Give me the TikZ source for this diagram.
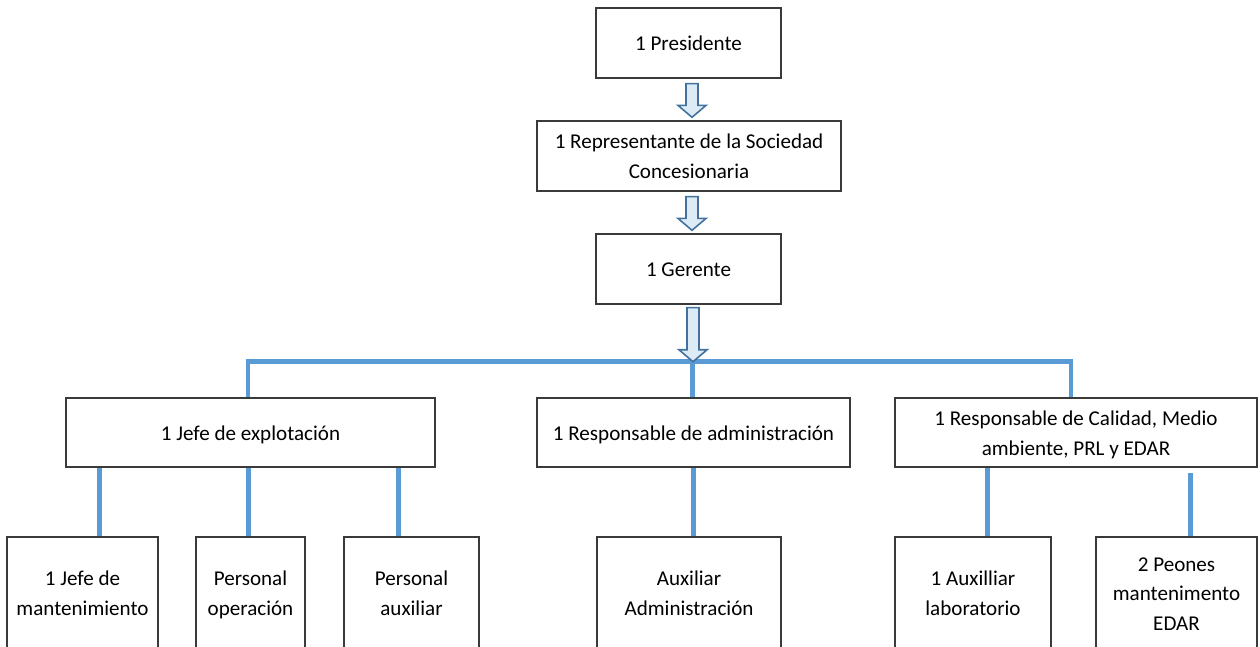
\documentclass[tikz,border=0pt]{standalone}
\usepackage{fontspec}
\setmainfont{Carlito}
\usetikzlibrary{calc}
\definecolor{conblue}{HTML}{5B9BD5}
\definecolor{arrfill}{HTML}{DDEBF7}
\definecolor{arrline}{HTML}{41719C}
\definecolor{boxline}{HTML}{3A3A3A}
\tikzset{
  box/.style={draw=boxline, line width=0.8pt, fill=white, align=center, text=black,
    font=\fontsize{12}{17}\selectfont, inner sep=0pt},
  conn/.style={draw=conblue, line width=2.8pt},
  barrow/.style={draw=arrline, fill=arrfill, line width=0.9pt, line join=miter}
}
\newcommand\st{\rule[-4pt]{0pt}{17pt}}
\newcommand\blockarrow[2]{%
  \draw[barrow] let \p1=(#1), \p2=(#2) in
    (\x1-3.4pt,\y1) -- (\x1+3.4pt,\y1) -- (\x1+3.4pt,\y2+6.8pt) -- (\x1+8pt,\y2+6.8pt)
    -- (\x1,\y2) -- (\x1-8pt,\y2+6.8pt) -- (\x1-3.4pt,\y2+6.8pt) -- cycle;}
\begin{document}
\begin{tikzpicture}[x=0.02cm,y=-0.02cm]
\useasboundingbox (0,0) rectangle (1260,646);
\clip (0,0) rectangle (1260,646);
% level 0-2
\node[box, minimum width=3.70cm, minimum height=1.40cm] (pres) at (688.5,43) {\st 1 Presidente};
\node[box, minimum width=6.08cm, minimum height=1.40cm] (rep) at (689,156) {\st 1 Representante de la Sociedad\\\st Concesionaria};
\node[box, minimum width=3.70cm, minimum height=1.40cm] (ger) at (688.5,269) {\st 1 Gerente};
% level 3
\node[box, minimum width=7.38cm, minimum height=1.38cm] (jexp) at (250.5,432.5) {\st 1 Jefe de explotación};
\node[box, minimum width=6.26cm, minimum height=1.38cm] (adm) at (693.5,432.5) {\st 1 Responsable de administración};
\node[box, minimum width=7.24cm, minimum height=1.38cm] (cal) at (1076,432.5) {\st 1 Responsable de Calidad, Medio\\\st ambiente, PRL y EDAR};
% level 4
\node[box, minimum width=3.02cm, minimum height=2.24cm] (jm) at (82.5,593) {\st 1 Jefe de\\\st mantenimiento};
\node[box, minimum width=2.18cm, minimum height=2.24cm] (pop) at (250.5,593) {\st Personal\\\st operación};
\node[box, minimum width=2.70cm, minimum height=2.24cm] (pau) at (411.5,593) {\st Personal\\\st auxiliar};
\node[box, minimum width=3.68cm, minimum height=2.24cm] (aad) at (689,593) {\st Auxiliar\\\st Administración};
\node[box, minimum width=3.12cm, minimum height=2.24cm] (alab) at (973,593) {\st 1 Auxilliar\\\st laboratorio};
\node[box, minimum width=3.22cm, minimum height=2.24cm] (peo) at (1176.5,593) {\st 2 Peones\\\st mantenimento\\\st EDAR};
% bus
\coordinate (hub) at ($(ger.south)+(4,57)$);
\coordinate (calin) at ($(cal.north)+(-5,0)$);
\draw[conn] (jexp.north -| 248,0) |- (hub) -| (calin);
\draw[conn] (hub) -- (hub |- adm.north);
% level 4 connectors
\path (jexp.south west) ++(34,0) coordinate (c1);
\path (jexp.south west) ++(183,0) coordinate (c2);
\path (jexp.south west) ++(333,0) coordinate (c3);
\draw[conn] (c1) -- (c1 |- jm.north);
\draw[conn] (c2) -- (c2 |- pop.north);
\draw[conn] (c3) -- (c3 |- pau.north);
\draw[conn] (adm.south) -- (adm.south |- aad.north);
\path (cal.south west) ++(93,0) coordinate (c5);
\path (cal.south west) ++(296,5) coordinate (c6);
\draw[conn] (c5) -- (c5 |- alab.north);
\draw[conn] (c6) -- (c6 |- peo.north);
% block arrows
\path ($(pres.south)+(3.5,5)$) coordinate (a1s);
\path (a1s |- rep.north) ++(0,-3) coordinate (a1e);
\blockarrow{a1s}{a1e}
\path ($(rep.south)+(3,5)$) coordinate (a2s);
\path (a2s |- ger.north) ++(0,-3) coordinate (a2e);
\blockarrow{a2s}{a2e}
\path ($(ger.south)+(4.5,3)$) coordinate (a3s);
\blockarrow{a3s}{hub}
\end{tikzpicture}
\end{document}
